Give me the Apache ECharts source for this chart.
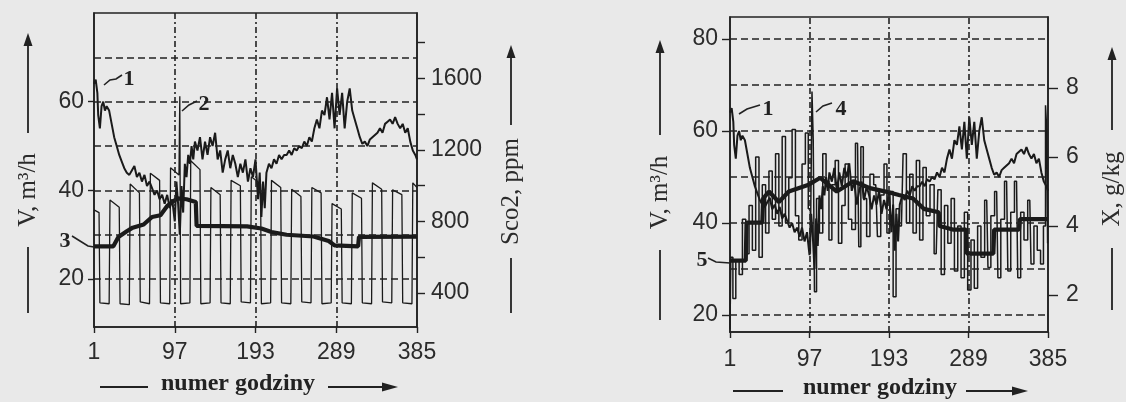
<!DOCTYPE html>
<html><head><meta charset="utf-8">
<script src="https://cdn.jsdelivr.net/npm/echarts@6/dist/echarts.min.js"></script>
<style>html,body{margin:0;padding:0;background:#e9e9e9}#c{width:1126px;height:402px}</style>
</head><body><div id="c"></div>
<script>
// ---- axis ticks / labels ----
const hourTicks = [1, 97, 193, 289, 385];
const vLabelsLeft = [20, 40, 60];
const vGridLeft = [20, 30, 40, 50, 60, 70];
const sco2Labels = [400, 800, 1200, 1600];
const sco2Ticks = [400, 600, 800, 1000, 1200, 1400, 1600, 1800];
const vLabelsRight = [20, 40, 60, 80];
const vGridRight = [20, 30, 40, 50, 60, 70, 80];
const xLabels = [2, 4, 6, 8];

// ---- curve 1: V, m3/h (same in both panels) ----
const vHours = [1,3,5,6,8,10,12,14,16,19,22,25,28,31,34,37,40,43,46,49,52,55,58,61,64,67,70,73,76,79,82,85,88,91,94,97,99,101,103,105,107,109,111,113,115,117,119,121,124,127,130,133,136,139,142,145,148,151,154,157,160,163,166,169,172,175,178,181,184,187,190,193,196,198,200,202,204,206,209,212,215,218,221,224,227,230,233,236,239,242,245,248,251,254,257,260,263,266,269,272,275,278,281,284,287,290,293,296,299,302,305,308,311,314,317,320,323,326,329,332,335,338,341,344,347,350,353,356,359,362,365,368,371,374,377,380,383,385];
const vValues = [64,65,62,57,54,59,60,58,59,58,55,52,50,48,46.5,45,44,43.5,44.5,45.5,43,44,42,43.5,41,42,40.5,39,40,38,39,37,39,36,38,33,42,37,30,41,35,46,43,48,46,50,47,51,49,52,47,51,48,52,50,53,47,49,44,47,49,45,48,46,43,46,44,47,42,45,43,47,38,44,34,42,36,44,46,45,47,46,48,47,48,48,49,48,49.5,49,50,49.5,51,50,52,51,54,56,54,58,57,61,56,62,54,63,57,62,54,60,63,58,56,54,52,50.5,51,50,51.5,52,52.5,53,54,53,55,55.5,56,55,56.5,55,54,55,53,54,51,49,48,47];

// ---- curve 2: Sco2, ppm ----
const sco2Hours = [1,7,8,19,20,31,32,43,44,55,56,67,68,79,80,91,92,102,103,104,115,116,127,128,139,140,151,152,163,164,175,176,187,188,199,200,211,212,223,224,235,236,247,248,259,260,271,272,283,284,295,296,307,308,319,320,331,332,343,344,355,356,367,368,379,380,385];
const sco2Values = [865,850,345,340,920,880,340,335,1010,960,350,340,1070,1030,345,340,1100,1060,1500,340,345,1140,1090,340,345,990,950,345,340,1030,1000,350,345,1050,1010,340,345,1030,990,345,340,980,940,350,345,990,960,340,345,900,870,345,340,960,930,345,340,1016,980,350,345,977,950,345,340,1016,990];

// ---- curve 3: thick line, V ----
const line3Hours = [1,24,30,40,47,60,70,80,88,100,111,122,123,183,200,212,230,262,280,287,315,316,385];
const line3Values = [27.4,27.4,29.5,30.8,31.6,32.3,34.0,34.4,36.5,38.2,38.0,37.4,32.0,31.9,31.4,30.6,30.0,29.6,28.6,27.6,27.4,29.5,29.6];

// ---- curve 4: X, g/kg ----
const line4Hours = [1,3,6,10,14,18,22,26,30,34,38,42,46,50,54,58,62,66,70,74,78,82,86,90,94,97,99,101,102,104,107,111,115,119,122,126,130,134,138,142,146,150,155,158,160,164,168,172,177,181,185,189,192,196,200,203,208,212,216,220,224,228,232,236,240,245,250,254,258,262,266,270,274,278,282,286,290,294,298,302,306,311,314,318,323,326,330,335,338,342,347,350,354,358,363,366,370,374,378,381,383,384,385];
const line4Values = [1.0,3.1,1.9,3.0,2.6,4.2,3.2,4.6,3.3,6.0,3.1,5.2,3.8,5.6,4.2,6.1,4.0,6.6,4.1,5.4,6.8,4.3,3.6,5.8,6.7,4.5,3.2,7.9,6.5,2.1,4.8,3.8,6.1,5.3,3.6,5.2,5.9,3.5,4.6,5.8,4.2,3.9,6.4,3.4,6.3,4.8,3.7,5.5,5.2,3.7,4.9,5.8,3.8,5.0,1.95,4.5,4.0,6.1,4.1,5.5,3.8,5.9,3.6,5.7,4.3,5.2,3.2,5.05,2.6,4.6,3.5,4.8,2.7,4.0,2.5,4.4,2.15,3.6,2.2,4.0,3.1,4.75,2.8,4.3,5.0,2.5,4.2,5.3,2.7,4.4,5.3,2.5,4.4,3.6,4.75,2.9,4.0,3.3,2.9,4.0,7.5,6.8,3.5];

// ---- curve 5: thick line, X ----
const line5Hours = [1,20,21,40,41,48,60,72,96,110,130,150,170,189,205,222,235,253,254,270,286,287,319,320,350,351,385];
const line5Values = [3.0,3.0,4.1,4.1,4.8,5.0,4.7,5.0,5.2,5.4,5.0,5.3,5.1,5.0,4.9,4.8,4.5,4.4,4.0,3.9,3.9,3.2,3.2,3.9,3.9,4.2,4.2];

const zip = (h, v) => h.map((x, i) => [x, v[i]]);

const INK = '#222';
const tickFont = { fontFamily: "'Liberation Sans', Arial, sans-serif", fontSize: 23, color: '#2b2b2b', formatter: v => String(v) };

function xAxisCfg(gridIndex, margin) {
  return {
    type: 'value', gridIndex, min: 1, max: 385,
    axisLine: { show: true, onZero: false, lineStyle: { color: INK, width: 1.6 } },
    axisTick: { show: true, customValues: hourTicks, length: 6, lineStyle: { color: INK, width: 1.4 } },
    axisLabel: Object.assign({ customValues: hourTicks, margin }, tickFont),
    splitLine: { show: false }
  };
}
function yAxisCfg(gridIndex, pos, min, max, labels, ticks, margin, tlen) {
  return {
    type: 'value', gridIndex, position: pos, min, max,
    axisLine: { show: true, onZero: false, lineStyle: { color: INK, width: 1.6 } },
    axisTick: { show: true, customValues: ticks, length: tlen, lineStyle: { color: INK, width: 1.4 } },
    axisLabel: Object.assign({ customValues: labels, margin }, tickFont),
    splitLine: { show: false }
  };
}
function gridMarks(vals) {
  return {
    silent: true, symbol: ['none', 'none'], label: { show: false }, animation: false,
    lineStyle: { type: [7, 4], color: '#222', width: 1.5 },
    emphasis: { disabled: true },
    data: vals.map(v => ({ yAxis: v })).concat(
      hourTicks.slice(1, 4).map(h => ({ xAxis: h, lineStyle: { type: [6, 3, 2, 3], color: '#222', width: 1.6 } })))
  };
}

const line = (name, xi, yi, data, width, z) => ({
  name, type: 'line', xAxisIndex: xi, yAxisIndex: yi, data, symbol: 'none',
  lineStyle: { color: '#1a1a1a', width }, z, animation: false, silent: true
});

// ---- graphic decorations ----
const G = [];
function arrowUp(x, y) { G.push({ type: 'polygon', shape: { points: [[x - 4.5, y + 13], [x, y], [x + 4.5, y + 13]] }, style: { fill: INK } }); }
function arrowRight(x, y) { G.push({ type: 'polygon', shape: { points: [[x - 16, y - 4.5], [x, y], [x - 16, y + 4.5]] }, style: { fill: INK } }); }
function seg(x1, y1, x2, y2, w) { G.push({ type: 'line', shape: { x1, y1, x2, y2 }, style: { stroke: INK, lineWidth: w || 1.8 } }); }
function vtitle(x, lowBottom, lowTop, upBottom, top, text) {
  seg(x, lowBottom, x, lowTop); seg(x, upBottom, x, top + 8); arrowUp(x, top);
  G.push({ type: 'text', x, y: (lowTop + upBottom) / 2, rotation: Math.PI / 2,
    style: { text, fill: '#2b2b2b', font: "25px 'Liberation Serif', serif", align: 'center', verticalAlign: 'middle' } });
}
function htitle(x1, x2, tx, x3, x4, y) {
  seg(x1, y, x2, y); seg(x3, y, x4 - 6, y); arrowRight(x4, y);
  G.push({ type: 'text', x: tx, y: y - 3, style: { text: 'numer godziny', fill: '#222', font: "bold 24px 'Liberation Serif', serif", align: 'center', verticalAlign: 'middle' } });
}
function clabel(txt, x, y, pts) {
  G.push({ type: 'polyline', shape: { points: pts }, style: { stroke: INK, lineWidth: 1.6, fill: null } });
  G.push({ type: 'text', x, y, style: { text: txt, fill: '#222', font: "bold 22px 'Liberation Serif', serif", align: 'center', verticalAlign: 'middle' } });
}
vtitle(28, 313, 247, 133, 33, 'V, m³/h');
vtitle(511, 313, 258, 125, 45, 'Sco2, ppm');
htitle(100, 148, 238, 328, 398, 387);
vtitle(660, 320, 250, 135, 40, 'V, m³/h');
vtitle(1112, 310, 248, 130, 47, 'X, g/kg');
htitle(733, 783, 880, 966, 1028, 391);
clabel('1', 129, 79, [[104, 85], [110, 80], [116, 79], [122, 75]]);
clabel('2', 204, 104, [[182, 111], [189, 105], [197, 101]]);
clabel('3', 65, 241, [[72, 236], [80, 241], [88, 246], [94, 247]]);
clabel('1', 768, 109, [[739, 114], [747, 109], [760, 105]]);
clabel('4', 841, 109, [[816, 112], [823, 106], [832, 103]]);
clabel('5', 702, 260, [[708, 258], [716, 262], [730, 263]]);

const chart = echarts.init(document.getElementById('c'), null, { renderer: 'canvas' });
chart.setOption({
  backgroundColor: '#e9e9e9',
  animation: false,
  grid: [
    { left: 94, right: 1126 - 417, top: 13, bottom: 402 - 327, show: true, borderColor: INK, borderWidth: 1.6, backgroundColor: 'transparent' },
    { left: 730, right: 1126 - 1048, top: 17, bottom: 402 - 332, show: true, borderColor: INK, borderWidth: 1.6, backgroundColor: 'transparent' }
  ],
  xAxis: [xAxisCfg(0, 14), xAxisCfg(1, 16)],
  yAxis: [
    yAxisCfg(0, 'left', 9.2, 80, vLabelsLeft, vLabelsLeft, 10, 6),
    yAxisCfg(0, 'right', 210, 1966, sco2Labels, sco2Ticks, 14, 8),
    yAxisCfg(1, 'left', 16.3, 84.8, vLabelsRight, vLabelsRight, 12, 8),
    yAxisCfg(1, 'right', 0.93, 10.06, xLabels, xLabels, 18, 10)
  ],
  series: [
    line('Sco2', 0, 1, zip(sco2Hours, sco2Values), 1.3, 2),
    Object.assign(line('V', 0, 0, zip(vHours, vValues), 2.0, 3), { markLine: gridMarks(vGridLeft) }),
    line('3', 0, 0, zip(line3Hours, line3Values), 4.2, 4),
    Object.assign(line('X', 1, 3, zip(line4Hours, line4Values), 1.5, 2), { step: 'middle' }),
    Object.assign(line('V', 1, 2, zip(vHours, vValues), 2.0, 3), { markLine: gridMarks(vGridRight) }),
    line('5', 1, 3, zip(line5Hours, line5Values), 4.2, 4)
  ],
  graphic: G
});
</script></body></html>
